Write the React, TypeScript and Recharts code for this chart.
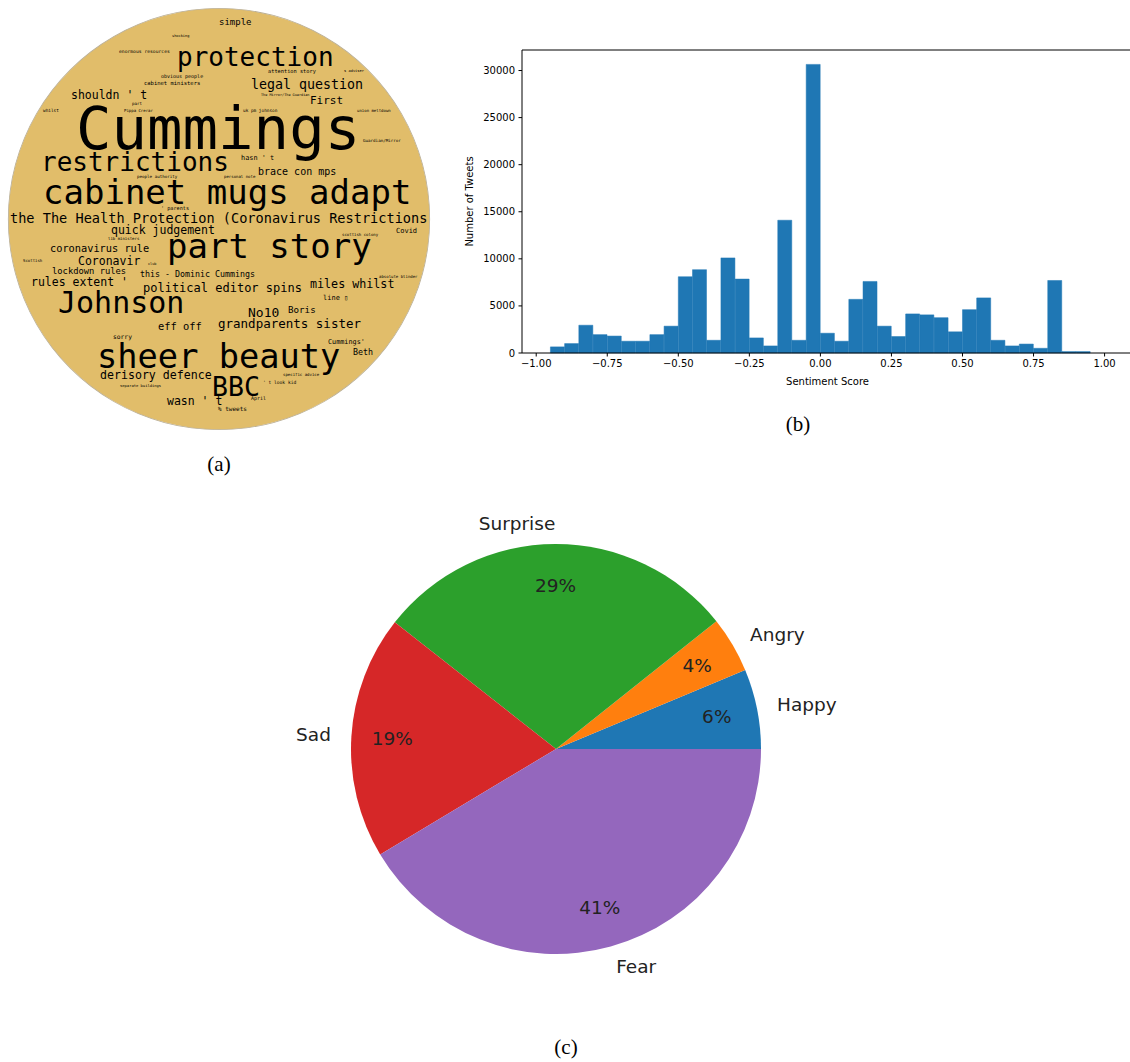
import {
  PieChart,
  Pie,
  Cell,
  ScatterChart,
  Scatter,
  ComposedChart,
  Bar,
  XAxis,
  YAxis,
  ReferenceLine,
} from "recharts"

// (a) word cloud: [word, left x, middle y, font size] in the cloud's own pixel space
const cloudWords: [string, number, number, number][] = [
  ["simple", 219, 22, 9],
  ["shocking", 172, 36, 3.6],
  ["enormous resources", 119, 52, 4.7],
  ["protection", 177, 58, 26],
  ["attention story", 268, 71, 5.3],
  ["s adviser", 344, 71, 3.7],
  ["obvious people", 161, 76, 5],
  ["cabinet ministers", 144, 83, 5.5],
  ["legal question", 251, 85, 13.3],
  ["The Mirror/The Guardian", 261, 95, 3.5],
  ["shouldn ' t", 71, 96, 11.5],
  ["First", 310, 101, 11],
  ["part", 132, 104, 4.2],
  ["whilst", 43, 111, 4.4],
  ["Pippa Crerar", 124, 111, 4],
  ["uk pm johnson", 243, 111, 4.4],
  ["union meltdown", 357, 111, 4],
  ["Cummings", 76, 131, 59],
  ["Guardian/Mirror", 363, 141, 4.2],
  ["hasn ' t", 241, 158, 6.9],
  ["restrictions", 41, 163, 26],
  ["brace con mps", 258, 172, 10],
  ["people authority", 137, 177, 4.2],
  ["personal note", 224, 177, 4],
  ["cabinet mugs adapt", 43, 194, 34],
  ["' parents", 161, 208, 5.2],
  ["the The Health Protection (Coronavirus Restrictions", 10, 219, 13.6],
  ["quick judgement", 111, 231, 11.5],
  ["Covid", 396, 231, 7],
  ["scottish colony", 342, 235, 4],
  ["lib ministers", 108, 239, 4],
  ["part story", 167, 248, 34],
  ["coronavirus rule", 50, 249, 10.3],
  ["Scottish", 23, 261, 4],
  ["Coronavir", 78, 262, 11.5],
  ["club", 148, 264, 3.5],
  ["lockdown rules", 52, 271, 8.8],
  ["this - Dominic Cummings", 140, 275, 8.3],
  ["absolute blinder", 379, 277, 4],
  ["rules extent '", 31, 283, 11.5],
  ["miles whilst", 310, 284, 11.7],
  ["political editor spins", 143, 288, 12],
  ["line \u25af", 323, 298, 7],
  ["Johnson", 58, 304, 30],
  ["Boris", 288, 310, 9.2],
  ["No10", 248, 313, 13],
  ["grandparents sister", 218, 324, 12.5],
  ["eff off", 158, 327, 10.4],
  ["sorry", 113, 337, 6.3],
  ["Cummings'", 328, 342, 6.8],
  ["Beth", 353, 353, 8.3],
  ["sheer beauty", 97, 358, 33.7],
  ["specific advice", 283, 375, 4],
  ["derisory defence", 100, 376, 11.6],
  ["' t look kid", 263, 383, 4.6],
  ["separate buildings", 120, 386, 3.8],
  ["BBC", 212, 388, 26.5],
  ["April", 251, 398, 5],
  ["wasn ' t", 167, 402, 11.5],
  ["% tweets", 218, 409, 6],
]
const cloudMask = [{ name: "cloud", value: 1 }]

// (b) histogram of sentiment scores, bins of 0.05 from -1.00 to 1.00
const binWidth = 0.05
const firstEdge = -1.05 // one empty bin of margin left of -1.00
const tweetCounts = [
  0, 650, 1000, 2950, 1950, 1800, 1250, 1250, 1950, 2850,
  8100, 8850, 1350, 10100, 7850, 1600, 750, 14100, 1350, 30650,
  2100, 1250, 5700, 7600, 2850, 1750, 4150, 4050, 3750, 2250,
  4600, 5850, 1350, 750, 950, 500, 7700, 150, 150, 0,
]
const scoreTicks = [-1, -0.75, -0.5, -0.25, 0, 0.25, 0.5, 0.75, 1]
const countTicks = [0, 5000, 10000, 15000, 20000, 25000, 30000]
const countMax = 32180

const histData = [0, ...tweetCounts, 0, 0].map((count, i) => ({
  bin: i,
  x: firstEdge + binWidth * (i + 0.5),
  count,
}))

// (c) emotions
const emotionNames = ["Happy", "Angry", "Surprise", "Sad", "Fear"]
const emotionShares = [6.3, 4.4, 28.7, 19.2, 41.4]
const emotionColors = ["#1f77b4", "#ff7f0e", "#2ca02c", "#d62728", "#9467bd"]

const pieData = emotionNames.map((name, i) => ({ name, value: emotionShares[i] }))

const RADIAN = Math.PI / 180
const axisFont = { fontSize: 10, fill: "#000", fontFamily: "DejaVu Sans" }

function WordShape(props: any) {
  const { cx, cy, payload } = props
  return (
    <text
      x={cx}
      y={cy + payload.size * 0.3}
      fontSize={payload.size}
      fontFamily="'DejaVu Sans Mono', 'Liberation Mono', monospace"
      fill="#000"
      style={{ whiteSpace: "pre" }}
    >
      {payload.word}
    </text>
  )
}

function renderPieLabel(props: any) {
  const { cx, cy, midAngle, outerRadius, percent, name } = props
  const cos = Math.cos(-midAngle * RADIAN)
  const sin = Math.sin(-midAngle * RADIAN)
  const font = { fontSize: 18.5, fill: "#222", fontFamily: "DejaVu Sans" }
  return (
    <g>
      <text
        x={cx + outerRadius * 1.1 * cos}
        y={cy + outerRadius * 1.1 * sin}
        textAnchor={cos >= 0 ? "start" : "end"}
        dominantBaseline="central"
        {...font}
      >
        {name}
      </text>
      <text
        x={cx + outerRadius * 0.8 * cos}
        y={cy + outerRadius * 0.8 * sin}
        textAnchor="middle"
        dominantBaseline="central"
        {...font}
      >
        {Math.round(percent * 100)}%
      </text>
    </g>
  )
}

const captionStyle: React.CSSProperties = {
  position: "absolute",
  width: 60,
  textAlign: "center",
  fontFamily: "'Liberation Serif', 'DejaVu Serif', serif",
  fontSize: 21,
  lineHeight: "24px",
  color: "#000",
}

export default function App() {
  const words = cloudWords.map(([word, x, y, size]) => ({ word, x, y, size }))

  return (
    <div
      style={{
        position: "absolute",
        left: 0,
        top: 0,
        width: 1130,
        height: 1062,
        overflow: "hidden",
        background: "#fff",
      }}
    >
      {/* (a) word cloud: golden disk underneath, words on top */}
      <div style={{ position: "absolute", left: 0, top: 0 }}>
        <PieChart width={440} height={440} margin={{ top: 0, right: 0, bottom: 0, left: 0 }}>
          <Pie
            data={cloudMask}
            dataKey="value"
            cx={219}
            cy={219}
            outerRadius={210.5}
            fill="#e1bd6a"
            stroke="none"
            isAnimationActive={false}
          />
          <Pie
            data={cloudMask}
            dataKey="value"
            cx={219}
            cy={219}
            innerRadius={210.3}
            outerRadius={211.1}
            fill="#b9ad92"
            stroke="none"
            isAnimationActive={false}
          />
        </PieChart>
      </div>
      <div style={{ position: "absolute", left: 0, top: 0 }}>
        <ScatterChart width={440} height={440} margin={{ top: 0, right: 0, bottom: 0, left: 0 }}>
          <XAxis type="number" dataKey="x" domain={[0, 440]} hide allowDataOverflow />
          <YAxis type="number" dataKey="y" domain={[0, 440]} reversed hide allowDataOverflow />
          <Scatter data={words} shape={WordShape} isAnimationActive={false} />
        </ScatterChart>
      </div>
      <div style={{ ...captionStyle, left: 189, top: 452 }}>(a)</div>

      {/* (b) sentiment histogram */}
      <div style={{ position: "absolute", left: 460, top: 0 }}>
        <ComposedChart
          width={673}
          height={400}
          data={histData}
          margin={{ top: 50, right: 0, bottom: 0, left: 0 }}
          barCategoryGap={0}
          barGap={0}
          style={{ fontFamily: "DejaVu Sans" }}
        >
          <XAxis
            xAxisId="score"
            dataKey="x"
            type="number"
            domain={[-1.05, 1.1]}
            ticks={scoreTicks}
            allowDataOverflow
            height={47}
            tickSize={3.5}
            tickMargin={3.5}
            tick={axisFont}
            tickFormatter={(v: number) => v.toFixed(2).replace("-", "\u2212")}
            axisLine={{ stroke: "#000" }}
            tickLine={{ stroke: "#000" }}
            label={{ value: "Sentiment Score", position: "insideBottom", offset: 15, ...axisFont }}
          />
          <XAxis xAxisId="bins" dataKey="bin" type="category" height={0} hide />
          <YAxis
            type="number"
            domain={[0, countMax]}
            ticks={countTicks}
            width={62}
            tickSize={3.5}
            tickMargin={3.5}
            tick={axisFont}
            axisLine={{ stroke: "#000" }}
            tickLine={{ stroke: "#000" }}
            label={{
              value: "Number of Tweets",
              angle: -90,
              position: "insideLeft",
              offset: 9,
              style: { textAnchor: "middle" },
              ...axisFont,
            }}
          />
          <ReferenceLine xAxisId="score" y={countMax} stroke="#000" strokeWidth={1} />
          <Bar
            xAxisId="bins"
            dataKey="count"
            fill="#1f77b4"
            stroke="#1f77b4"
            strokeWidth={0.5}
            isAnimationActive={false}
          />
        </ComposedChart>
      </div>
      <div style={{ ...captionStyle, left: 768, top: 412 }}>(b)</div>

      {/* (c) emotion pie */}
      <div style={{ position: "absolute", left: 256, top: 449 }}>
        <PieChart width={600} height={600} margin={{ top: 0, right: 0, bottom: 0, left: 0 }}>
          <Pie
            data={pieData}
            dataKey="value"
            nameKey="name"
            cx={300}
            cy={300}
            outerRadius={205}
            startAngle={0}
            endAngle={360}
            stroke="none"
            labelLine={false}
            label={renderPieLabel}
            isAnimationActive={false}
          >
            {pieData.map((d, i) => (
              <Cell key={d.name} fill={emotionColors[i]} />
            ))}
          </Pie>
        </PieChart>
      </div>
      <div style={{ ...captionStyle, left: 536, top: 1035 }}>(c)</div>
    </div>
  )
}
